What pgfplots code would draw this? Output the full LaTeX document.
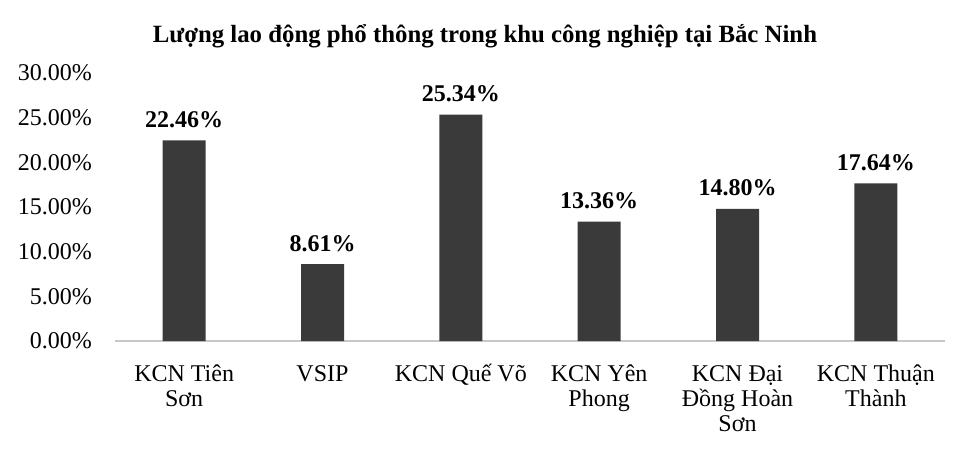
\documentclass[border=0pt]{standalone}
\usepackage{fontspec}
\setmainfont{Liberation Serif}
\usepackage{pgfplots}
\pgfplotsset{compat=1.18}
\definecolor{barc}{HTML}{3A3A3A}
\definecolor{axc}{HTML}{C8C8C8}
\newcommand{\fl}{\rule{0pt}{22bp}}
\begin{document}
\begin{tikzpicture}
\begin{axis}[
  scale only axis,
  width=830bp, height=268bp,
  xmin=-0.5, xmax=5.5,
  ymin=0, ymax=30,
  axis lines=left,
  x axis line style={draw=axc, line width=1.2bp, -},
  y axis line style={draw=none},
  major tick length=0pt,
  ytick={0,5,10,15,20,25,30},
  yticklabel={\pgfmathprintnumber[fixed,fixed zerofill,precision=2,assume math mode=true]{\tick}\%},
  yticklabel style={font=\fontsize{24bp}{25bp}\selectfont, anchor=east, inner sep=0pt, xshift=-23bp},
  xtick=data,
  xticklabels={{\fl KCN Tiên\\Sơn},{\fl VSIP},{\fl KCN Quế Võ},{\fl KCN Yên\\Phong},{\fl KCN Đại\\Đồng Hoàn\\Sơn},{\fl KCN Thuận\\Thành}},
  xticklabel style={font=\fontsize{24bp}{25bp}\selectfont, align=center, anchor=north, inner sep=0pt, yshift=-18bp},
  title={\textbf{Lượng lao động phổ thông trong khu công nghiệp tại Bắc Ninh}},
  title style={font=\fontsize{24.8bp}{26bp}\selectfont, at={(0.5,1)}, anchor=base, inner sep=0pt, yshift=25bp, xshift=-45bp},
  ybar, bar width=43bp,
  nodes near coords={\pgfmathprintnumber[fixed,fixed zerofill,precision=2,assume math mode=true]{\pgfplotspointmeta}\%},
  every node near coord/.append style={font=\fontsize{24bp}{25bp}\selectfont\bfseries, anchor=base, inner sep=0pt, yshift=13bp},
  clip=false,
]
\addplot[fill=barc, draw=none] coordinates {(0,22.46) (1,8.61) (2,25.34) (3,13.36) (4,14.80) (5,17.64)};
\end{axis}
\useasboundingbox (-115bp,-114bp) rectangle (854bp,341bp);
\end{tikzpicture}
\end{document}
